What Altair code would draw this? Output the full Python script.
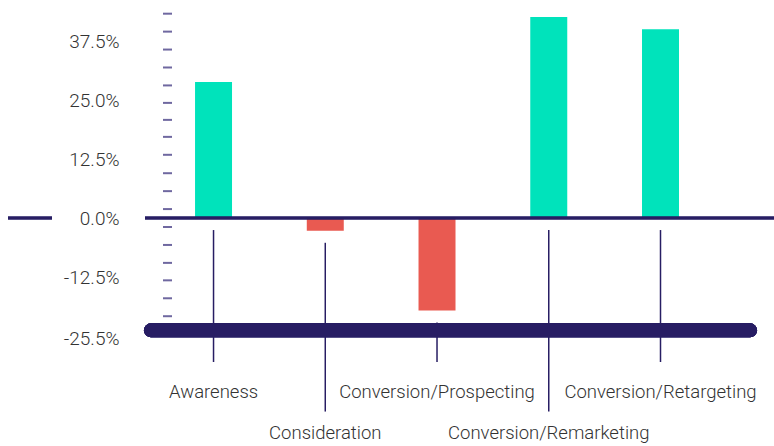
import altair as alt
import pandas as pd

# Funnel stages and their change (in %)
stages = ["Awareness", "Consideration", "Conversion/Prospecting",
          "Conversion/Remarketing", "Conversion/Retargeting"]
changes = [28.8, -2.7, -19.6, 42.6, 40.0]

# Axis labels on the value scale
y_ticks = [37.5, 25.0, 12.5, 0.0, -12.5, -25.5]
# Decorative minor ticks along the value axis
minor_ticks = [43.3, 39.5, 35.7, 31.9, 28.1, 24.4, 20.8, 17.2, 13.4,
               9.5, 5.7, 1.9, -1.9, -5.7, -9.5, -13.2, -17.0, -20.8]

TEAL = "#00e3bb"
RED = "#e95a51"
NAVY = "#271d63"
TICK = "#6f68a0"
TEXT = "#333333"
FONT = "Roboto"

W, H = 629, 446
Y_DOMAIN = [-48.3, 46.2]
BASE_LINE = -23.8
LABEL_Y = [-36.9, -45.6]
LINE_END = [-30.5, -41.0]

df = pd.DataFrame({
    "stage": stages,
    "change": changes,
    "row": [i % 2 for i in range(len(stages))],
})
ticks_df = pd.DataFrame({"v": minor_ticks})

y_scale = alt.Scale(domain=Y_DOMAIN, nice=False, zero=False)
x_scale = alt.Scale(domain=stages, paddingInner=0.669, paddingOuter=0.649, align=0.345)

# One shared value axis: labels only, no ticks, domain or grid
y_axis = alt.Axis(values=y_ticks,
                  labelExpr="(datum.value < 0 ? '-' : '') + format(abs(datum.value), '.1f') + '%'",
                  ticks=False, domain=False, grid=False, title=None,
                  labelFont=FONT, labelFontSize=19, labelFontWeight=300,
                  labelColor=TEXT, labelPadding=26)

x_enc = alt.X("stage:N", scale=x_scale, axis=None, sort=stages)

base = alt.Chart(df)

bars = base.mark_bar().encode(
    x=x_enc,
    y=alt.Y("change:Q", scale=y_scale, axis=y_axis),
    y2=alt.datum(0),
    color=alt.condition(alt.datum.change > 0, alt.value(TEAL), alt.value(RED)),
)

connectors = base.transform_calculate(
    start="min(datum.change, 0)",
    end=f"datum.row == 0 ? {LINE_END[0]} : {LINE_END[1]}",
).mark_rule(color=NAVY, strokeWidth=1.5).encode(
    x=x_enc,
    y=alt.Y("start:Q", scale=y_scale, axis=y_axis),
    y2="end:Q",
    yOffset=alt.value(12),
)

labels = base.transform_calculate(
    ly=f"datum.row == 0 ? {LABEL_Y[0]} : {LABEL_Y[1]}",
).mark_text(font=FONT, fontSize=18.5, fontWeight=300, color=TEXT,
            baseline="middle", align="center").encode(
    x=x_enc,
    y=alt.Y("ly:Q", scale=y_scale, axis=y_axis),
    text="stage:N",
)

minor = alt.Chart(ticks_df).mark_rule(color=TICK, strokeWidth=2).encode(
    y=alt.Y("v:Q", scale=y_scale, axis=y_axis),
    x=alt.value(18),
    x2=alt.value(27),
)

zero_line = alt.Chart(df).mark_rule(color=NAVY, strokeWidth=2.5).encode(
    y=alt.Y(datum=0, scale=y_scale, axis=y_axis),
    x=alt.value(0),
    x2=alt.value(W),
)

left_stub = alt.Chart(df).mark_rule(color=NAVY, strokeWidth=2.5).encode(
    y=alt.Y(datum=0, scale=y_scale, axis=y_axis),
    x=alt.value(-137),
    x2=alt.value(-93),
)

base_bar = alt.Chart(df).mark_rule(color=NAVY, strokeWidth=14, strokeCap="round").encode(
    y=alt.Y(datum=BASE_LINE, scale=y_scale, axis=y_axis),
    x=alt.value(6),
    x2=alt.value(605),
)

chart = alt.layer(
    bars, minor, zero_line, left_stub, connectors, base_bar, labels
).properties(
    width=W,
    height=H,
    padding={"left": 145, "top": 0, "right": 0, "bottom": 0},
    autosize=alt.AutoSizeParams(type="none"),
).configure(background="white").configure_view(stroke="transparent", strokeWidth=0)

chart.save("out.html", embed_options={"renderer": "svg", "actions": False})
